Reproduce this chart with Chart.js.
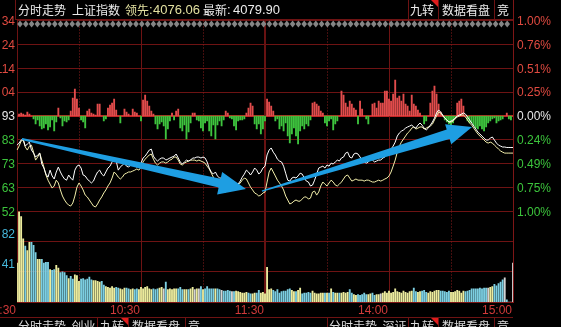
<!DOCTYPE html>
<html>
<head>
<meta charset="utf-8">
<script src="https://cdn.jsdelivr.net/npm/chart.js@4"></script>
<style>
html, body { margin: 0; padding: 0; background: #000; overflow: hidden; }
#wrap { position: relative; width: 561px; height: 327px; }
#wrap canvas { position: absolute; left: 0; top: 0; }
</style>
</head>
<body>
<div id="wrap">
  <canvas id="price" width="561" height="327"></canvas>
  <canvas id="volume" width="561" height="327"></canvas>
</div>
<script>
// previous close of the index and the price grid
const prevClose = 4093.4;
const pctLevels = [1, 0.75, 0.5, 0.25, 0, -0.25, -0.5, -0.75, -1];
const leftLabels = ['34', '24', '114', '04', '93', '83', '73', '63', '52'];
const rightLabels = ['1.00%', '0.76%', '0.51%', '0.25%', '0.00%', '0.24%', '0.49%', '0.75%', '1.00%'];

// volume grid
const volumeMax = 123;
const volumeLevels = [82, 41];
const volumeLabels = ['82', '41'];

// time axis (minute index from 9:30, 11:30 and 13:00 share index 120)
const timeTicks = [0, 60, 120, 180, 240];
const timeLabels = ['9:30', '10:30', '11:30', '14:00', '15:00'];
const dottedTicks = [30, 90, 150, 210];

// header texts
const headerTitle = '分时走势';
const headerIndex = '上证指数';
const leadName = '领先:';
const leadValue = '4076.06';
const lastName = '最新:';
const lastValue = '4079.90';
const tabs = ['九转', '数据看盘', '竞'];

// index price, one value per minute
const indexPrice = [
  4080.9, 4081.8, 4083.1, 4083.5, 4080.5, 4081.4, 4082.2, 4078.8, 4077.5, 4075.8,
  4076.7, 4077.5, 4072.8, 4071.1, 4068.5, 4067.2, 4070.2, 4067.7, 4066.4, 4069.4,
  4071.5, 4069.4, 4067.7, 4066.4, 4065.9, 4068.1, 4066.8, 4065.9, 4070.2, 4071.9,
  4072.4, 4071.1, 4068.1, 4067.7, 4066.4, 4065.5, 4064.7, 4065.5, 4067.7, 4069.4,
  4070.2, 4068.5, 4067.7, 4069.4, 4071.1, 4071.9, 4073.7, 4074.9, 4074.1, 4070.2,
  4071.5, 4072.4, 4073.2, 4071.9, 4071.5, 4072.4, 4072.8, 4071.9, 4071.5, 4072.4,
  4073.2, 4075.4, 4076.2, 4077.5, 4078.8, 4079.2, 4076.2, 4074.9, 4074.1, 4074.9,
  4075.4, 4075.4, 4074.5, 4074.9, 4075.4, 4075.8, 4076.2, 4077.1, 4075.4, 4073.7,
  4072.8, 4073.7, 4074.5, 4074.1, 4074.5, 4075.4, 4075.4, 4075.8, 4075.8, 4075.4,
  4075.8, 4075.4, 4073.7, 4071.1, 4069.4, 4068.5, 4069.4, 4067.7, 4066.8, 4066.8,
  4065.9, 4065.1, 4064.2, 4063.4, 4063.4, 4062.9, 4063.8, 4064.2, 4065.5, 4067.2,
  4068.5, 4070.2, 4069.4, 4068.1, 4069.4, 4071.1, 4070.2, 4068.5, 4069.4, 4071.1,
  4071.9, 4076.7, 4078.8, 4079.7, 4077.9, 4076.7, 4074.9, 4074.1, 4073.7, 4071.9,
  4068.9, 4065.9, 4065.5, 4066.8, 4067.2, 4066.8, 4067.7, 4068.9, 4068.5, 4066.8,
  4065.5, 4065.1, 4063.4, 4063.8, 4065.9, 4068.5, 4071.1, 4071.5, 4071.9, 4071.1,
  4072.4, 4071.9, 4073.2, 4072.8, 4073.7, 4074.5, 4074.1, 4075.4, 4075.8, 4077.5,
  4077.9, 4075.8, 4075.4, 4077.1, 4077.5, 4077.1, 4075.8, 4074.5, 4073.7, 4073.2,
  4073.7, 4074.9, 4074.5, 4073.7, 4074.1, 4074.5, 4074.5, 4075.4, 4075.8, 4077.1,
  4078.4, 4079.2, 4080.5, 4082.2, 4084.8, 4086.1, 4086.9, 4087.4, 4088.2, 4088.7,
  4089.1, 4089.5, 4088.7, 4088.2, 4089.5, 4090.4, 4089.5, 4088.2, 4087.4, 4088.2,
  4089.5, 4090.8, 4092.5, 4094.7, 4096.0, 4095.1, 4093.8, 4092.5, 4091.7, 4090.8,
  4091.2, 4091.7, 4092.5, 4093.4, 4093.8, 4094.2, 4094.7, 4094.2, 4093.0, 4091.7,
  4090.4, 4089.1, 4087.8, 4086.5, 4085.7, 4084.8, 4083.9, 4083.1, 4083.1, 4083.9,
  4084.4, 4083.1, 4081.8, 4080.9, 4080.5, 4080.1, 4080.1, 4079.9, 4079.9, 4079.9,
  4079.9
];

// leading (equal weight) index, one value per minute
const leadPrice = [
  4078.8, 4080.5, 4082.7, 4083.1, 4080.1, 4078.8, 4080.5, 4080.9, 4077.9, 4074.5,
  4075.8, 4077.5, 4074.5, 4071.5, 4068.1, 4065.9, 4064.2, 4062.5, 4063.4, 4065.9,
  4064.7, 4061.7, 4059.1, 4057.4, 4056.1, 4055.2, 4054.8, 4056.1, 4059.1, 4062.9,
  4064.7, 4063.4, 4061.7, 4059.5, 4058.7, 4057.4, 4056.1, 4054.8, 4054.4, 4055.7,
  4057.4, 4058.7, 4060.4, 4061.7, 4063.4, 4064.7, 4066.8, 4069.4, 4068.5, 4067.2,
  4066.4, 4067.2, 4068.5, 4068.9, 4069.4, 4069.4, 4069.8, 4070.2, 4070.7, 4070.2,
  4071.5, 4073.7, 4074.9, 4075.8, 4076.7, 4077.1, 4074.9, 4073.2, 4072.4, 4073.2,
  4073.7, 4073.7, 4073.2, 4073.7, 4074.5, 4074.9, 4075.8, 4075.8, 4074.5, 4072.8,
  4072.4, 4073.2, 4073.7, 4074.1, 4074.5, 4074.5, 4074.5, 4074.1, 4074.5, 4074.1,
  4073.7, 4073.2, 4071.9, 4070.7, 4068.9, 4067.2, 4065.9, 4064.2, 4062.5, 4061.7,
  4061.2, 4060.8, 4061.7, 4062.5, 4063.4, 4063.8, 4064.2, 4063.8, 4064.7, 4065.9,
  4066.8, 4066.4, 4064.7, 4062.9, 4061.7, 4060.4, 4059.9, 4059.1, 4059.5, 4060.4,
  4060.8, 4065.1, 4069.4, 4071.1, 4069.4, 4067.7, 4065.9, 4064.7, 4063.4, 4061.7,
  4059.1, 4057.4, 4055.7, 4056.1, 4056.9, 4057.4, 4056.9, 4056.9, 4057.8, 4058.7,
  4058.7, 4057.8, 4058.2, 4060.8, 4061.2, 4059.5, 4060.8, 4063.4, 4065.1, 4064.2,
  4063.4, 4064.7, 4065.9, 4065.1, 4063.8, 4063.4, 4064.2, 4065.1, 4066.4, 4067.7,
  4068.1, 4066.8, 4065.5, 4065.9, 4066.4, 4065.9, 4065.9, 4065.9, 4065.5, 4065.9,
  4065.9, 4065.5, 4065.1, 4065.1, 4065.5, 4065.9, 4065.5, 4065.9, 4066.4, 4066.8,
  4067.7, 4069.4, 4071.9, 4074.5, 4077.9, 4080.5, 4082.2, 4083.5, 4084.8, 4086.1,
  4086.9, 4088.2, 4088.7, 4087.8, 4088.2, 4088.7, 4088.7, 4087.8, 4088.2, 4088.7,
  4089.1, 4089.9, 4091.7, 4093.4, 4095.1, 4094.7, 4093.4, 4092.5, 4091.7, 4090.8,
  4090.8, 4091.2, 4092.1, 4093.0, 4093.4, 4093.8, 4093.8, 4093.0, 4091.7, 4090.4,
  4089.5, 4088.2, 4086.9, 4085.7, 4084.8, 4083.9, 4083.1, 4082.2, 4081.8, 4082.2,
  4081.8, 4080.9, 4080.1, 4079.2, 4078.4, 4077.9, 4077.5, 4077.5, 4077.5, 4077.5,
  4077.5
];

// red / green strength bars around the zero line
const strengthBars = [
  0, 2, 3, 2, 1, 4, 2, 0, -3, -8,
  -4, -10, -13, -12, -8, -14, -11, -4, -15, -6,
  8, -2, -10, -5, -6, -4, 5, 18, 27, 17,
  8, -4, -6, -12, 5, 7, 3, 2, 1, 12,
  12, 0, -5, -3, 8, 11, 13, 17, 6, 0,
  -7, 0, 7, 4, 2, 0, 7, 4, 3, 0,
  -5, 16, 21, 15, 10, 5, 2, -8, -13, -8,
  -6, -10, -23, -13, -5, 3, -4, 5, 7, -12,
  -15, -9, -23, -16, -7, 3, 3, -4, -5, -12,
  -15, -7, -5, -15, -20, -9, -23, -9, -5, -10,
  -4, 5, 3, -2, -3, -10, -14, -5, -4, -4,
  -3, 3, 8, 13, 10, -8, -13, -8, -18, -13,
  -5, 17, 14, 10, 5, -5, -3, -13, -10, -15,
  -7, -20, -27, -18, -12, -20, -28, -15, -10, -13,
  -8, -10, -4, 13, 14, 12, 10, 5, 3, -7,
  -10, -5, -3, -14, -8, -5, 0, 25, 21, 13,
  9, 15, 12, 8, 6, -8, 15, 7, 0, -3,
  -8, 0, 12, 13, 8, 15, 13, 13, 25, 25,
  17, 15, 22, 36, 18, 20, 15, 22, 12, 10,
  5, 21, 12, 10, 6, 3, 0, -8, -5, 0,
  13, 25, 30, 22, 12, 4, 0, -4, -6, -8,
  -10, -7, -2, 13, 15, 17, 10, 0, -5, -7,
  -7, -10, -12, -13, -10, -13, -15, -11, -7, -5,
  -3, -2, -7, -5, -4, -3, 0, 3, -3, -4,
  0
];

// volume per minute
const volume = [
  53, 123, 116, 86, 76, 70, 81, 81, 77, 67,
  58, 58, 58, 53, 54, 54, 44, 43, 44, 50,
  46, 40, 41, 40, 36, 32, 35, 31, 37, 36,
  28, 31, 32, 30, 31, 34, 30, 29, 29, 28,
  27, 28, 23, 21, 20, 19, 21, 19, 20, 19,
  18, 17, 19, 19, 18, 17, 18, 17, 18, 17,
  20, 18, 20, 21, 18, 17, 18, 17, 18, 19,
  20, 18, 27, 17, 18, 17, 18, 18, 18, 20,
  17, 17, 17, 17, 18, 20, 17, 18, 18, 21,
  17, 18, 21, 18, 18, 18, 18, 18, 17, 16,
  15, 15, 16, 15, 14, 14, 15, 14, 13, 12,
  12, 13, 12, 11, 11, 12, 12, 16, 12, 13,
  11, 47, 17, 18, 16, 14, 17, 12, 14, 15,
  15, 17, 18, 16, 14, 14, 16, 19, 11, 12,
  12, 13, 12, 15, 12, 11, 11, 12, 12, 12,
  12, 12, 18, 13, 12, 12, 12, 12, 13, 12,
  13, 17, 12, 10, 9, 10, 9, 10, 12, 10,
  10, 11, 12, 9, 10, 10, 11, 12, 14, 12,
  15, 12, 13, 18, 14, 13, 12, 15, 13, 12,
  14, 15, 19, 14, 13, 14, 15, 16, 13, 12,
  14, 13, 15, 16, 16, 15, 15, 14, 13, 15,
  13, 13, 14, 16, 15, 12, 15, 14, 15, 16,
  18, 18, 18, 18, 19, 18, 19, 19, 19, 20,
  21, 24, 22, 25, 27, 30, 33, 3, 0, 0,
  53
];

// the two blue trend arrows, [minute index, price]
const arrows = [
  { from: [2.4, 4083.5], to: [110.8, 4062.1], tail: 2, shaft: 9, headLen: 27, headWidth: 23 },
  { from: [118.5, 4061.2], to: [220.2, 4088.7], tail: 1.5, shaft: 10, headLen: 25, headWidth: 21 }
];

const minuteLabels = indexPrice.map((_, i) => {
  const m = i <= 120 ? 570 + i : 660 + i;
  return Math.floor(m / 60) + ':' + String(m % 60).padStart(2, '0');
});

const gridColor = '#6e1313';
const upColor = '#e04a40';
const downColor = '#3cc43c';
const numFont = '12px "Liberation Sans", Arial, sans-serif';
const cjkFont = '12px "Noto Sans CJK SC", sans-serif';

function hLine(ctx, x0, x1, y, color, w) {
  ctx.fillStyle = color;
  ctx.fillRect(x0, Math.round(y - w / 2), x1 - x0, w);
}

function vLine(ctx, x, y0, y1, color, w) {
  ctx.fillStyle = color;
  ctx.fillRect(Math.round(x - w / 2), y0, w, y1 - y0);
}

function vDotted(ctx, x, y0, y1, color) {
  ctx.fillStyle = color;
  for (let y = y0; y < y1; y += 3) ctx.fillRect(Math.round(x - 0.5), y, 1, 1);
}

function verticalGrid(ctx, xs, top, bottom) {
  timeTicks.forEach(t => {
    const x = xs.getPixelForValue(t);
    vLine(ctx, x, top, bottom, t === 120 ? '#681212' : gridColor, t === 120 ? 2 : 1);
  });
  dottedTicks.forEach(t => vDotted(ctx, xs.getPixelForValue(t), top, bottom, '#8a1c1c'));
}

function drawArrow(ctx, x0, y0, x1, y1, a) {
  const dx = x1 - x0, dy = y1 - y0, len = Math.hypot(dx, dy);
  const ux = dx / len, uy = dy / len, nx = -uy, ny = ux;
  const bx = x1 - ux * a.headLen, by = y1 - uy * a.headLen;
  ctx.beginPath();
  ctx.moveTo(x0 + nx * a.tail / 2, y0 + ny * a.tail / 2);
  ctx.lineTo(bx + nx * a.shaft / 2, by + ny * a.shaft / 2);
  ctx.lineTo(bx + nx * a.headWidth / 2, by + ny * a.headWidth / 2);
  ctx.lineTo(x1, y1);
  ctx.lineTo(bx - nx * a.headWidth / 2, by - ny * a.headWidth / 2);
  ctx.lineTo(bx - nx * a.shaft / 2, by - ny * a.shaft / 2);
  ctx.lineTo(x0 - nx * a.tail / 2, y0 - ny * a.tail / 2);
  ctx.closePath();
  ctx.fill();
}

const pricePlugin = {
  id: 'priceDecor',
  beforeDatasetsDraw(chart) {
    const { ctx, chartArea: a, scales } = chart;
    ctx.save();
    pctLevels.forEach(p => {
      const y = scales.y.getPixelForValue(prevClose * (1 + p / 100));
      if (p === 0) hLine(ctx, a.left, a.right, y, '#b81d1d', 2);
      else hLine(ctx, a.left, a.right, y, gridColor, 1);
    });
    verticalGrid(ctx, scales.x, a.top, a.bottom);
    vLine(ctx, a.left, a.top, a.bottom, gridColor, 1);
    vLine(ctx, a.right, 0, a.bottom, '#7e1616', 1);
    // diamond row under the top line
    ctx.fillStyle = '#858585';
    for (let x = a.left + 3; x < a.right - 2; x += 5.8) {
      ctx.beginPath();
      ctx.moveTo(x, 20.5); ctx.lineTo(x + 2.8, 24); ctx.lineTo(x, 27.5); ctx.lineTo(x - 2.8, 24);
      ctx.closePath(); ctx.fill();
    }
    ctx.restore();
  },
  afterDatasetsDraw(chart) {
    const { ctx, scales } = chart;
    ctx.save();
    ctx.fillStyle = '#1e9ee2';
    arrows.forEach(ar => {
      drawArrow(ctx,
        scales.x.getPixelForValue(ar.from[0]), scales.y.getPixelForValue(ar.from[1]),
        scales.x.getPixelForValue(ar.to[0]), scales.y.getPixelForValue(ar.to[1]), ar);
    });
    ctx.restore();
  },
  afterDraw(chart) {
    const { ctx, chartArea: a, scales } = chart;
    ctx.save();
    ctx.textBaseline = 'middle';
    ctx.font = numFont;
    pctLevels.forEach((p, k) => {
      const y = scales.y.getPixelForValue(prevClose * (1 + p / 100));
      ctx.fillStyle = p > 0 ? upColor : p < 0 ? downColor : '#e6e6e6';
      ctx.textAlign = 'right';
      ctx.fillText(leftLabels[k], a.left - 2, y + 1);
      ctx.textAlign = 'left';
      ctx.fillText(rightLabels[k], a.right + 4, y + 1);
    });
    // header bar
    hLine(ctx, 15, a.right, 19, gridColor, 1);
    vLine(ctx, 15, 0, 19, gridColor, 1);
    [408, 438, 494].forEach(x => vLine(ctx, x, 0, 19, gridColor, 1));
    ctx.textAlign = 'left';
    ctx.textBaseline = 'middle';
    ctx.font = cjkFont;
    ctx.fillStyle = '#ececec';
    ctx.fillText(headerTitle, 18, 10);
    ctx.fillText(headerIndex, 72, 10);
    ctx.fillText(lastName.slice(0, 2), 203, 10);
    ctx.fillText(tabs[0], 410, 10);
    ctx.fillText(tabs[1], 442, 10);
    ctx.fillText(tabs[2], 497, 10);
    ctx.fillStyle = '#e2e0a0';
    ctx.fillText(leadName.slice(0, 2), 125, 10);
    ctx.font = '13px "Liberation Sans", Arial, sans-serif';
    ctx.fillText(':', 149, 10);
    ctx.fillText(leadValue, 153, 10);
    ctx.fillStyle = '#ececec';
    ctx.fillText(':', 227, 10);
    ctx.fillText(lastValue, 233, 10);
    ctx.fillStyle = '#e01c1c';
    ctx.beginPath();
    ctx.moveTo(431, 0); ctx.lineTo(438, 0); ctx.lineTo(438, 7); ctx.closePath(); ctx.fill();
    ctx.restore();
  }
};

const volumePlugin = {
  id: 'volumeDecor',
  beforeDatasetsDraw(chart) {
    const { ctx, chartArea: a, scales } = chart;
    ctx.save();
    hLine(ctx, a.left, a.right, a.top, gridColor, 1);
    volumeLevels.forEach(v => hLine(ctx, a.left, a.right, scales.y.getPixelForValue(v), gridColor, 1));
    hLine(ctx, a.left, a.right + 1, a.bottom, '#7e1616', 1);
    verticalGrid(ctx, scales.x, a.top, a.bottom);
    vLine(ctx, a.left, a.top, a.bottom, gridColor, 1);
    vLine(ctx, a.right, a.top, a.bottom, '#7e1616', 1);
    ctx.restore();
  },
  afterDraw(chart) {
    const { ctx, chartArea: a, scales } = chart;
    ctx.save();
    ctx.font = numFont;
    ctx.fillStyle = '#46b8dc';
    ctx.textAlign = 'right';
    ctx.textBaseline = 'bottom';
    volumeLevels.forEach((v, k) => ctx.fillText(volumeLabels[k], a.left - 2, scales.y.getPixelForValue(v) - 1));
    ctx.fillStyle = '#d23a3a';
    ctx.textBaseline = 'middle';
    timeTicks.forEach((t, k) => ctx.fillText(timeLabels[k], scales.x.getPixelForValue(t) - 1, a.bottom + 9));
    // strip of the panels below
    hLine(ctx, 0, a.right, 317, gridColor, 1);
    [97, 128, 185, 327, 408, 438, 494].forEach(x => vLine(ctx, x, 317, 327, gridColor, 1));
    ctx.font = cjkFont;
    ctx.fillStyle = '#dcdcdc';
    ctx.textAlign = 'left';
    ctx.textBaseline = 'top';
    ctx.fillText('分时走势  创业', 18, 320);
    ctx.fillText('九转', 100, 320);
    ctx.fillText('数据看盘', 132, 320);
    ctx.fillText('竞', 188, 320);
    ctx.fillText('分时走势  深证', 329, 320);
    ctx.fillText('九转', 410, 320);
    ctx.fillText('数据看盘', 442, 320);
    ctx.fillText('竞', 497, 320);
    ctx.fillStyle = '#e01c1c';
    [[121, 128], [431, 438]].forEach(([x0, x1]) => {
      ctx.beginPath();
      ctx.moveTo(x0, 318); ctx.lineTo(x1, 318); ctx.lineTo(x1, 325); ctx.closePath(); ctx.fill();
    });
    ctx.restore();
  }
};

new Chart(document.getElementById('price'), {
  type: 'line',
  data: {
    labels: minuteLabels,
    datasets: [
      {
        type: 'line',
        data: indexPrice,
        borderColor: '#ffffff',
        borderWidth: 1,
        pointRadius: 0,
        yAxisID: 'y',
        order: 0,
      },
      {
        type: 'line',
        data: leadPrice,
        borderColor: '#f2eeaa',
        borderWidth: 1,
        pointRadius: 0,
        yAxisID: 'y',
        order: 1,
      },
      {
        type: 'bar',
        data: strengthBars,
        backgroundColor: c => c.raw >= 0 ? '#e24c4c' : '#3ec43e',
        barThickness: 1.2,
        yAxisID: 'strength',
        order: 2,
      },
    ]
  },
  options: {
    responsive: false,
    animation: false,
    events: [],
    layout: { padding: { left: 17, right: 48, top: 20.5, bottom: 115.5 } },
    plugins: { legend: { display: false }, tooltip: { enabled: false } },
    scales: {
      x: { display: false, offset: false },
      y: { display: false, min: prevClose * 0.99, max: prevClose * 1.01 },
      strength: { display: false, min: -95.5, max: 95.5 },
    },
  },
  plugins: [pricePlugin],
});

new Chart(document.getElementById('volume'), {
  type: 'bar',
  data: {
    labels: minuteLabels,
    datasets: [
      {
        data: volume,
        backgroundColor: c => {
          const i = c.dataIndex;
          const d = i === 0 ? 1 : indexPrice[i] - indexPrice[i - 1];
          return d > 0 ? '#ecec9e' : d < 0 ? '#7ccfe2' : '#d4d4d4';
        },
        barThickness: 1.2,
      },
    ]
  },
  options: {
    responsive: false,
    animation: false,
    events: [],
    layout: { padding: { left: 17, right: 48, top: 211.5, bottom: 25 } },
    plugins: { legend: { display: false }, tooltip: { enabled: false } },
    scales: {
      x: { display: false, offset: false },
      y: { display: false, min: 0, max: volumeMax },
    },
  },
  plugins: [volumePlugin],
});
</script>
</body>
</html>
